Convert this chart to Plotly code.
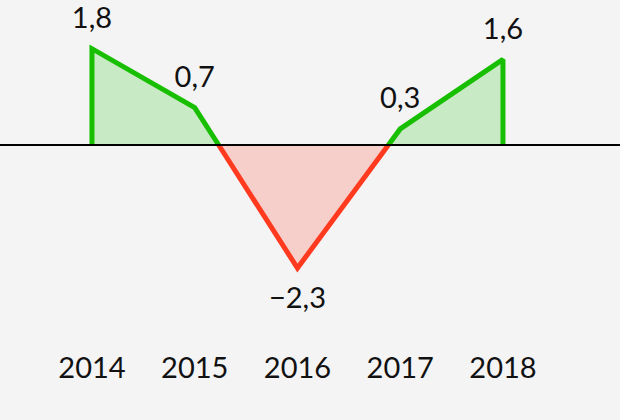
import plotly.graph_objects as go

years = [2014, 2015, 2016, 2017, 2018]
values = [1.8, 0.7, -2.3, 0.3, 1.6]
labels = ["1,8", "0,7", "\u22122,3", "0,3", "1,6"]
tick_labels = ["2014", "2015", "2016", "2017", "2018"]

GREEN = "#17bf00"
GREEN_FILL = "#c8eac4"
RED = "#ff3a1f"
RED_FILL = "#f6ceca"
BG = "#f4f4f4"
FONT = "Lato, 'Noto Sans', sans-serif"

# build path with zero crossings inserted
pts = [(years[0], 0.0)]
for i in range(len(years)):
    x, y = years[i], values[i]
    if i > 0:
        x0, y0 = years[i - 1], values[i - 1]
        if (y0 > 0 > y) or (y0 < 0 < y):
            xc = x0 + (x - x0) * (y0 / (y0 - y))
            pts.append((xc, 0.0))
    pts.append((x, y))
pts.append((years[-1], 0.0))

# split into runs of same sign
runs = []
cur = [pts[0]]
sign = None
for p in pts[1:]:
    cur.append(p)
    if p[1] != 0:
        sign = p[1] > 0
    if p[1] == 0 and len(cur) > 1:
        runs.append((sign, cur))
        cur = [p]

fig = go.Figure()
for pos, run in runs:
    xs = [p[0] for p in run]
    ys = [p[1] for p in run]
    fig.add_trace(go.Scatter(x=xs, y=ys, fill="toself", mode="none",
                             fillcolor=GREEN_FILL if pos else RED_FILL,
                             hoverinfo="skip", showlegend=False))
for pos, run in runs:
    xs = [p[0] for p in run]
    ys = [p[1] for p in run]
    fig.add_trace(go.Scatter(x=xs, y=ys, mode="lines",
                             line=dict(color=GREEN if pos else RED, width=5),
                             hoverinfo="skip", showlegend=False))

fig.add_shape(type="line", xref="paper", yref="y", x0=0, x1=1, y0=0, y1=0,
              line=dict(color="black", width=2), layer="above")

pos_idx = [i for i, v in enumerate(values) if v >= 0]
neg_idx = [i for i, v in enumerate(values) if v < 0]
fig.add_trace(go.Scatter(x=[years[i] for i in pos_idx], y=[values[i] for i in pos_idx],
                         text=[labels[i] for i in pos_idx], mode="markers+text",
                         marker=dict(size=20, opacity=0), cliponaxis=False,
                         textposition="top center",
                         textfont=dict(size=29, color="#111111", family=FONT),
                         showlegend=False, hoverinfo="skip"))
fig.add_trace(go.Scatter(x=[years[i] for i in neg_idx], y=[values[i] for i in neg_idx],
                         text=[labels[i] for i in neg_idx], mode="markers+text",
                         marker=dict(size=28, opacity=0), cliponaxis=False,
                         textposition="bottom center",
                         textfont=dict(size=29, color="#111111", family=FONT),
                         showlegend=False, hoverinfo="skip"))

fig.update_layout(
    width=620, height=420,
    margin=dict(l=0, r=0, t=0, b=75),
    paper_bgcolor=BG, plot_bgcolor=BG,
    font=dict(family=FONT, size=29, color="#111111"),
    xaxis=dict(range=[2013.105, 2019.139], tickvals=years, ticktext=tick_labels,
               showgrid=False, zeroline=False, showline=False, ticks="",
               ticklabelstandoff=3, tickfont=dict(size=29)),
    yaxis=dict(range=[-3.738, 2.71], showgrid=False, zeroline=False,
               showticklabels=False, showline=False, ticks=""),
)

fig.write_html("out.html", config={"displayModeBar": False},
               post_script="document.body.style.margin='0';")
